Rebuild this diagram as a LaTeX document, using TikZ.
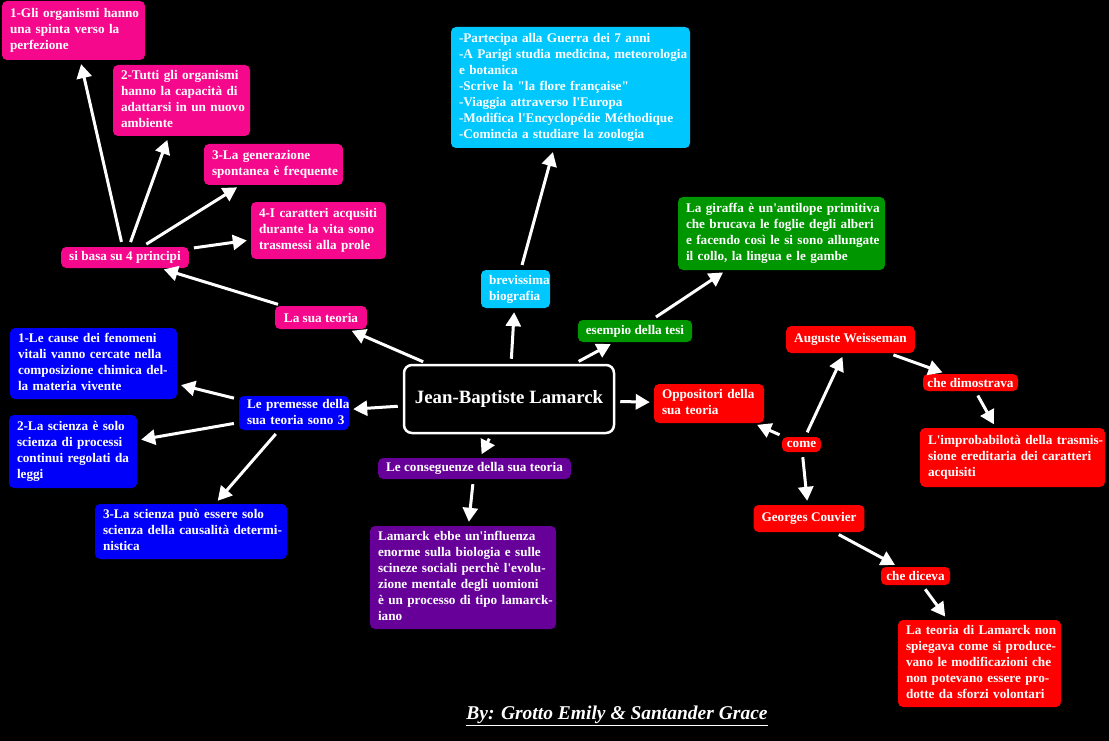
\documentclass[tikz,border=0pt]{standalone}
\usepackage{fontspec}
\setmainfont{Liberation Serif}
\usetikzlibrary{arrows.meta}
\definecolor{cpink}{RGB}{245,8,140}
\definecolor{ccyan}{RGB}{0,200,255}
\definecolor{cgreen}{RGB}{0,150,0}
\definecolor{cblue}{RGB}{0,0,250}
\definecolor{cpurple}{RGB}{102,0,153}
\definecolor{cred}{RGB}{255,0,0}
\newcommand\mytab[1]{\begin{tabular}{@{}l@{}}#1\end{tabular}}
\newcommand\aq{\textquotesingle}
\newcommand\dq{\textquotedbl}
\tikzset{
  box/.style={rounded corners=5pt, text=white, font=\bfseries\fontsize{13.2}{16}\selectfont, inner xsep=8pt, inner ysep=0pt, align=left},
  sbox/.style={box, align=center},
  arr/.style={draw=white, line width=3pt, -{Triangle[length=14pt,width=15pt]}, shorten <=5pt, shorten >=4pt},
}
\begin{document}
\begin{tikzpicture}[x=1pt,y=-1pt]
\fill[black] (0,0) rectangle (1109,741);
\useasboundingbox (0,0) rectangle (1109,741);

% centre
\node[draw=white, fill=black, line width=2.5pt, rounded corners=8pt, text=white, font=\bfseries\fontsize{18.8}{22}\selectfont, minimum width=210pt, minimum height=68pt] (c) at (509,399) {Jean-Baptiste Lamarck};

% pink
\node[box, fill=cpink, minimum height=59pt, text width=127pt] (p1) at (73.5,30.5) {\mytab{1-Gli organismi hanno\\una spinta verso la\\perfezione}};
\node[box, fill=cpink, minimum height=71pt, text width=121pt] (p2) at (181.5,100.5) {\mytab{2-Tutti gli organismi\\hanno la capacità di\\adattarsi in un nuovo\\ambiente}};
\node[box, fill=cpink, minimum height=41pt, text width=123pt] (p3) at (273.5,164.5) {\mytab{3-La generazione\\spontanea è frequente}};
\node[box, fill=cpink, minimum height=57pt, text width=119pt] (p4) at (318.5,230.5) {\mytab{4-I caratteri acqusiti\\durante la vita sono\\trasmessi alla prole}};
\node[sbox, fill=cpink, minimum width=122pt, minimum height=21pt] (basa) at (125,257.5) {si basa su 4 principi};
\node[sbox, fill=cpink, minimum width=92pt, minimum height=23pt] (teoria) at (321,317.5) {La sua teoria};

% cyan
\node[box, fill=ccyan, minimum height=121pt, text width=223pt] (bio) at (570.5,87.5) {\mytab{-Partecipa alla Guerra dei 7 anni\\-A Parigi studia medicina, meteorologia\\e botanica\\-Scrive la \dq la flore française\dq\\-Viaggia attraverso l\aq Europa\\-Modifica l\aq Encyclopédie Méthodique\\-Comincia a studiare la zoologia}};
\node[box, fill=ccyan, minimum height=38pt, text width=53pt] (brev) at (515.5,289) {\mytab{brevissima\\biografia}};

% green
\node[box, fill=cgreen, minimum height=73pt, text width=191pt] (gir) at (781.5,233.5) {\mytab{La giraffa è un\aq antilope primitiva\\che brucava le foglie degli alberi\\e facendo così le si sono allungate\\il collo, la lingua e le gambe}};
\node[sbox, fill=cgreen, minimum width=110pt, minimum height=22pt] (es) at (635,331) {esempio della tesi};

% blue
\node[box, fill=cblue, minimum height=34pt, text width=94pt] (pre) at (294,413) {\mytab{Le premesse della\\sua teoria sono 3}};
\node[box, fill=cblue, minimum height=71pt, text width=151pt] (b1) at (93.5,363.5) {\mytab{1-Le cause dei fenomeni\\vitali vanno cercate nella\\composizione chimica del-\\la materia vivente}};
\node[box, fill=cblue, minimum height=73pt, text width=112pt] (b2) at (73,451.5) {\mytab{2-La scienza è solo\\scienza di processi\\continui regolati da\\leggi}};
\node[box, fill=cblue, minimum height=55pt, text width=176pt] (b3) at (191,531.5) {\mytab{3-La scienza può essere solo\\scienza della causalità determi-\\nistica}};

% purple
\node[sbox, fill=cpurple, minimum width=187pt, minimum height=21pt] (cons) at (474.5,468.5) {Le conseguenze della sua teoria};
\node[box, fill=cpurple, minimum height=103pt, text width=170pt] (lam) at (463,577.5) {\mytab{Lamarck ebbe un\aq influenza\\enorme sulla biologia e sulle\\scineze sociali perchè l\aq evolu-\\zione mentale degli uomioni\\è un processo di tipo lamarck-\\iano}};

% red
\node[box, fill=cred, minimum height=39pt, text width=94pt] (opp) at (709,403.5) {\mytab{Oppositori della\\sua teoria}};
\node[sbox, fill=cred, inner xsep=2pt, minimum width=39pt, minimum height=15pt] (come) at (801.5,444.5) {come};
\node[sbox, fill=cred, minimum width=127pt, minimum height=27pt] (aug) at (850.5,339.5) {Auguste Weisseman};
\node[sbox, fill=cred, inner xsep=3pt, minimum width=95pt, minimum height=17pt] (dimo) at (970.5,382.5) {che dimostrava};
\node[box, fill=cred, minimum height=59pt, text width=169pt] (imp) at (1012.5,457.5) {\mytab{L\aq improbabilotà della trasmis-\\sione ereditaria dei caratteri\\acquisiti}};
\node[sbox, fill=cred, minimum width=110pt, minimum height=27pt] (couv) at (809,518.5) {Georges Couvier};
\node[sbox, fill=cred, inner xsep=3pt, minimum width=69pt, minimum height=18pt] (dice) at (915.5,576) {che diceva};
\node[box, fill=cred, minimum height=87pt, text width=147pt] (lat) at (979.5,663.5) {\mytab{La teoria di Lamarck non\\spiegava come si produce-\\vano le modificazioni che\\non potevano essere pro-\\dotte da sforzi volontari}};

% credit
\node[text=white, font=\bfseries\itshape\fontsize{19.5}{22}\selectfont] (cr) at (617,716) {\underline{By: Grotto Emily \& Santander Grace}};

% arrows
\draw[arr] (c) -- (teoria);
\draw[arr] (teoria) -- (basa);
\draw[arr] (basa) -- (p1);
\draw[arr] (basa) -- (p2);
\draw[arr] (basa) -- (p3);
\draw[arr] (basa) -- (p4);
\draw[arr] (c) -- (brev);
\draw[arr] (brev) -- (bio);
\draw[arr] (c) -- (es);
\draw[arr] (es) -- (gir);
\draw[arr] (c) -- (opp);
\draw[arr] (come) -- (opp);
\draw[arr] (come) -- (aug);
\draw[arr] (come) -- (couv);
\draw[arr] (aug) -- (dimo);
\draw[arr] (dimo) -- (imp);
\draw[arr] (couv) -- (dice);
\draw[arr] (dice) -- (lat);
\draw[arr] (c) -- (pre);
\draw[arr] (pre) -- (b1);
\draw[arr] (pre) -- (b2);
\draw[arr] (pre) -- (b3);
\draw[arr] (c) -- (cons);
\draw[arr] (cons) -- (lam);
\end{tikzpicture}
\end{document}
